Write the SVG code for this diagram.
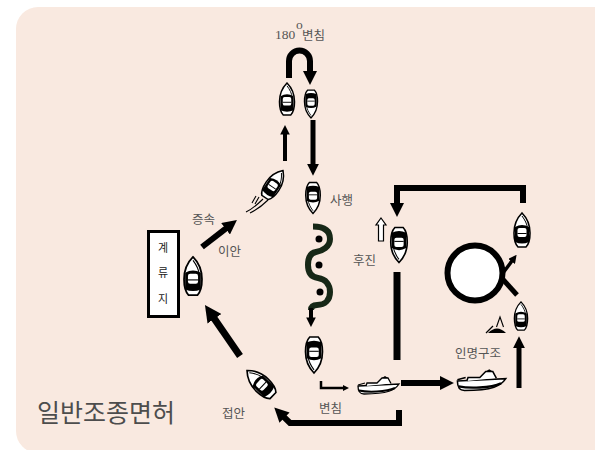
<svg xmlns="http://www.w3.org/2000/svg" xmlns:xlink="http://www.w3.org/1999/xlink" width="595" height="450" viewBox="0 0 595 450">
  <style>
    .lbl { font-family: "Noto Sans CJK KR", "Noto Sans", sans-serif; font-size: 12.5px; fill: #555; }
    .num { font-family: "Liberation Serif", serif; font-size: 13.5px; fill: #555; }
    .dock { font-family: "Noto Sans CJK KR", sans-serif; font-size: 11px; fill: #222; text-anchor: middle; }
    .title { font-family: "Noto Sans CJK KR", sans-serif; font-size: 25px; fill: #4d4d4d; }
    .path { fill: none; stroke: #000; stroke-linejoin: miter; }
    .arr { marker-end: url(#ah); }
  </style>
  <defs>
    <marker id="ah" viewBox="0 0 10 10" refX="1" refY="5" markerWidth="2.4" markerHeight="2.4" markerUnits="strokeWidth" orient="auto">
      <path d="M0,0 L10,5 L0,10 Z" fill="#000"/>
    </marker>
    <!-- small motorboat seen from above, bow pointing up -->
    <g id="boatTop">
      <path d="M0,-17 C5,-12 8,-5 8,3 C8,10 6,15 4,17 L-4,17 C-6,15 -8,10 -8,3 C-8,-5 -5,-12 0,-17 Z" fill="#fff" stroke="#000" stroke-width="1.6"/>
      <path d="M0,-14 C3,-10 5,-6 5.5,-2" fill="none" stroke="#000" stroke-width="1"/>
      <path d="M-7,-3 Q0,-7 7,-3 L7,12 Q0,15 -7,12 Z" fill="#000"/>
      <rect x="-4.5" y="-2" width="9" height="9" rx="2" fill="#fff"/>
      <path d="M-4.5,3.5 L4.5,3.5" stroke="#000" stroke-width="1"/>
    </g>
    <!-- motorboat seen from the side, bow pointing right -->
    <g id="boatSide">
      <path d="M-20,0 L21,-2 C17,4 10,8 -14,8 C-18,8 -20,5 -20,0 Z" fill="#fff" stroke="#000" stroke-width="1.3"/>
      <path d="M-19,4.5 C-10,6.5 8,6 17,2" fill="none" stroke="#000" stroke-width="2"/>
      <path d="M-12,0 L-11,-3 L-1,-3 L4,-8 L10,-8 L13,-2.5" fill="#fff" stroke="#000" stroke-width="1.3"/>
      <path d="M4,-8 L7,-10 L10,-8 Z" fill="#000"/>
      <path d="M-20,-1 L-13,-3" stroke="#000" stroke-width="1.3"/>
    </g>
  </defs>

  <!-- page background -->
  <rect x="16" y="7" width="600" height="446" rx="22" fill="#f9e9e0"/>

  <!-- connectors -->
  <g id="connectors">
    <!-- 180 degree turn -->
    <path class="path arr" stroke-width="6" d="M289,78 L289,61 A10.5,10.5 0 0 1 310,61 L310,72"/>
    <path class="path arr" stroke-width="4" d="M285,161 L285,133.6"/>
    <path class="path arr" stroke-width="5" d="M313,120 L313,165"/>
    <!-- leaving the dock -->
    <path class="path arr" stroke-width="6" d="M202,247 L226.7,227.9"/>
    <!-- approaching the dock -->
    <path class="path arr" stroke-width="7" d="M240,356 L213.5,317.4"/>
    <!-- slalom -->
    <path fill="none" stroke="#172817" stroke-width="6" d="M313,226.5 C326,226.5 330,232 330,239 C330,247 322,251 316,252 C310,253 308,258 308,265 C308,272 311,277 318,278 C326,279 330,285 330,292 C330,300 325,305 317,305 C313,305 311,307 311,310"/>
    <path class="path arr" stroke-width="4" d="M311,308 L311,318.4"/>
    <!-- bottom turn -->
    <path class="path arr" stroke-width="2.5" d="M321,381 L321,388 L343.6,388"/>
    <path class="path arr" stroke-width="6" d="M401,383 L441,383"/>
    <path class="path arr" stroke-width="6" d="M399,410 L399,423 L290,423 L283.5,416.6"/>
    <!-- reversing -->
    <path class="path" stroke-width="7" d="M397,272 L397,360"/>
    <path class="path arr" stroke-width="6" d="M523,203 L523,188 L397,188 L397,204"/>
    <!-- man overboard -->
    <path class="path arr" stroke-width="5" d="M519,388 L519,347"/>
    <path class="path" stroke-width="5" d="M517,295 L499,275"/>
    <path class="path arr" stroke-width="3.5" d="M500,277 L512.1,260.8"/>
  </g>

  <!-- slalom marker buoys -->
  <g id="slalom-marks" fill="#000">
    <circle cx="319" cy="239" r="3.5"/>
    <circle cx="319" cy="265" r="3.5"/>
    <circle cx="320" cy="292" r="3.5"/>
  </g>

  <!-- mooring pier -->
  <g id="dock">
    <rect x="148.5" y="231.5" width="30" height="85" fill="#fff" stroke="#000" stroke-width="3"/>
    <text class="dock" x="163" y="251.5">계</text>
    <text class="dock" x="163" y="276.5">류</text>
    <text class="dock" x="163" y="302.5">지</text>
  </g>

  <!-- turning mark -->
  <g id="mark">
    <circle cx="475" cy="273" r="27.5" fill="#fff" stroke="#000" stroke-width="6"/>
  </g>

  <!-- buoy -->
  <g id="buoy">
    <path d="M488,333 Q497,324 506,333 Z" fill="#000"/>
    <path d="M496.5,327 L500,317 L503.5,327" fill="none" stroke="#000" stroke-width="1.1"/>
    <path d="M486,333 L493,326" stroke="#000" stroke-width="1.3"/>
  </g>

  <!-- boats -->
  <g id="boat-dock"><use xlink:href="#boatTop" href="#boatTop" transform="translate(193,276) scale(1.12)"/></g>
  <g id="boat-up"><use xlink:href="#boatTop" href="#boatTop" transform="translate(287,99) scale(0.94)"/></g>
  <g id="boat-down"><use xlink:href="#boatTop" href="#boatTop" transform="translate(311,104) rotate(180) scale(0.82)"/></g>
  <g id="boat-slalom"><use xlink:href="#boatTop" href="#boatTop" transform="translate(313,198) rotate(180) scale(0.91)"/></g>
  <g id="boat-speed">
    <use xlink:href="#boatTop" href="#boatTop" transform="translate(274,184) rotate(34) scale(0.95)"/>
    <path d="M263,199 C258,204 252,209 246,212 M268,200 C262,206 256,210 250,213 M256,196 L252,203 M259,197 L255,204" fill="none" stroke="#000" stroke-width="1.1"/>
  </g>
  <g id="boat-after-slalom"><use xlink:href="#boatTop" href="#boatTop" transform="translate(314,355) rotate(180) scale(1.06)"/></g>
  <g id="boat-approach"><use xlink:href="#boatTop" href="#boatTop" transform="translate(260,383) rotate(-46) scale(1.06)"/></g>
  <g id="boat-reverse">
    <use xlink:href="#boatTop" href="#boatTop" transform="translate(399,245) rotate(180) scale(1.03)"/>
    <path d="M381,218 L386,225 L383.5,225 L383.5,241 L378.5,241 L378.5,225 L376,225 Z" fill="#fff" stroke="#000" stroke-width="1.2"/>
  </g>
  <g id="boat-mark"><use xlink:href="#boatTop" href="#boatTop" transform="translate(522,230) scale(1.0)"/></g>
  <g id="boat-rescue"><use xlink:href="#boatTop" href="#boatTop" transform="translate(521,316) scale(0.83)"/></g>
  <g id="boat-side-1"><use xlink:href="#boatSide" href="#boatSide" transform="translate(378,386)"/></g>
  <g id="boat-side-2"><use xlink:href="#boatSide" href="#boatSide" transform="translate(481,381) scale(1.18)"/></g>

  <!-- labels -->
  <g id="labels">
    <text class="num" x="275" y="39">180</text>
    <text class="num" x="296" y="29" font-size="8">o</text>
    <text class="lbl" x="302" y="40">변침</text>
    <text class="lbl" x="330" y="205">사행</text>
    <text class="lbl" x="192" y="224">증속</text>
    <text class="lbl" x="218" y="256">이안</text>
    <text class="lbl" x="353" y="265">후진</text>
    <text class="lbl" x="455" y="358">인명구조</text>
    <text class="lbl" x="222" y="418">접안</text>
    <text class="lbl" x="319" y="413">변침</text>
    <text class="title" x="37" y="422">일반조종면허</text>
  </g>
</svg>
